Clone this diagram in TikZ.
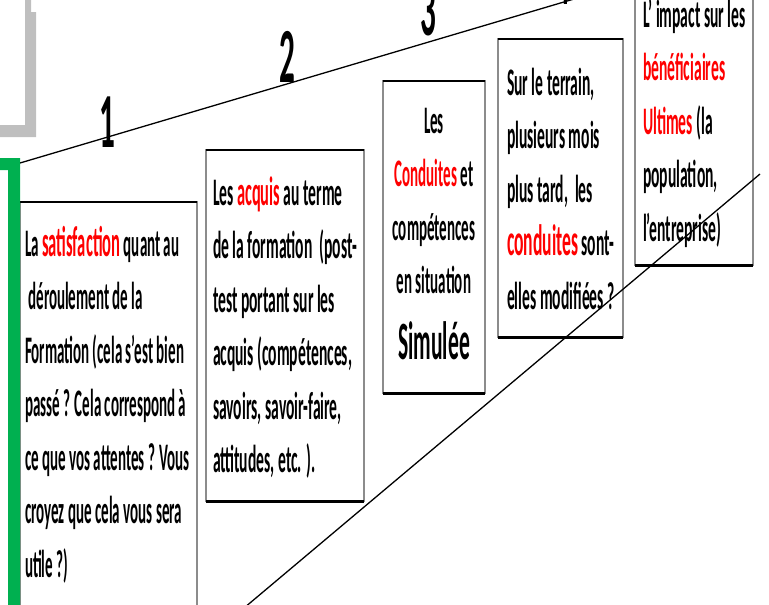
\documentclass[tikz,border=0pt]{standalone}
\usepackage{fontspec}
\newfontfamily\cf[FakeStretch=0.40]{Carlito}
\newfontfamily\cfn[FakeStretch=0.385]{Carlito}
\definecolor{stepgreen}{HTML}{00B050}
\definecolor{framegray}{HTML}{BFBFBF}
\begin{document}
\begin{tikzpicture}[x=1pt,y=-1pt,
  box/.style={draw=black!45, line width=1.5pt, fill=white, inner sep=0pt, outer sep=0pt},
  topedge/.style={draw=black, line width=2pt},
  botedge/.style={draw=black, line width=3pt},
  txt/.style={inner sep=0pt, outer sep=0pt, align=left, font=\cf\bfseries\fontsize{39}{53.5}\selectfont},
  ntxt/.style={txt, font=\cfn\bfseries\fontsize{39}{53.5}\selectfont},
  num/.style={inner sep=0pt, anchor=base, font=\cf\bfseries\fontsize{78}{78}\selectfont},
  thin/.style={draw=black, line width=1.3pt}]
\useasboundingbox (0,0) rectangle (769,605);

% grey frame corner at the top left
\fill[framegray] (0,125) -- (25,125) -- (25,0) -- (31,0) -- (31,12) -- (36,12)
  -- (36,137) -- (0,137) -- cycle;

% rising step line and its numbers
\coordinate (s0) at (20,163);
\coordinate (s1) at (600,-8.7);
\draw[thin] (s0) -- (s1);
\node[num] (n1) at (107,147) {1};
\node[num] (n2) at (287,82) {2};
\node[num] (n3) at (428,35) {3};
\node[num] (n4) at (562,5) {4};

% the five boxes
\node[box, minimum width=177pt, minimum height=420pt] (b1) at (108.5,412) {};
\node[box, minimum width=158pt, minimum height=351pt] (b2) at (285,325.5) {};
\node[box, minimum width=102pt, minimum height=312pt] (b3) at (434,237) {};
\node[box, minimum width=125pt, minimum height=298pt] (b4) at (560.5,188) {};
\node[box, minimum width=118pt, minimum height=285pt] (b5) at (694,122.5) {};
\foreach \b in {b1,b2,b3,b4,b5}{
  \draw[topedge] (\b.north west) -- (\b.north east);
  \draw[botedge] (\b.south west) -- (\b.south east);
}

% texts
\node[ntxt, anchor=north west] (t1) at (25,216) {\rule{0pt}{40pt}La {\fontsize{43}{53.5}\selectfont\textcolor{red}{satisfaction}} quant au\\
 \ déroulement de la\\
Formation (cela s’est bien\\
passé ? Cela correspond à\\
ce que vos attentes ? Vous\\
croyez que cela vous sera\\
utile ?)};

\node[txt, anchor=north west] (t2) at (213,165) {\rule{0pt}{40pt}Les {\fontsize{41}{53.5}\selectfont\textcolor{red}{acquis}} au terme\\
de la formation \ (post-\\
test portant sur les\\
acquis (compétences,\\
savoirs, savoir-faire,\\
attitudes, etc. ).};

\node[ntxt, align=center, anchor=north] (t3) at (434,93) {\rule{0pt}{40pt}Les\\
\textcolor{red}{Conduites} et\\
compétences\\
en situation\\[12pt]
{\cf\fontsize{54}{53.5}\selectfont Simulée}};

\node[txt, anchor=north west] (t4) at (507,55) {\rule{0pt}{40pt}Sur le terrain,\\
plusieurs mois\\
plus tard, \ les\\
{\fontsize{44}{53.5}\selectfont\textcolor{red}{conduites}} sont-\\
elles modifiées ?};

\node[txt, anchor=north west] (t5) at (643,-13) {\rule{0pt}{40pt}L’ impact sur les\\
\textcolor{red}{bénéficiaires}\\
\textcolor{red}{Ultimes} (la\\
population,\\
l’entreprise)};

% green frame corner at the left
\fill[stepgreen] (0,158) -- (20,158) -- (20,610) -- (8,610) -- (8,170) -- (0,170) -- cycle;

% diagonal line crossing the right side
\coordinate (d0) at (244,608);
\coordinate (d1) at (760,174);
\draw[thin] (d0) -- (d1);
\end{tikzpicture}
\end{document}
